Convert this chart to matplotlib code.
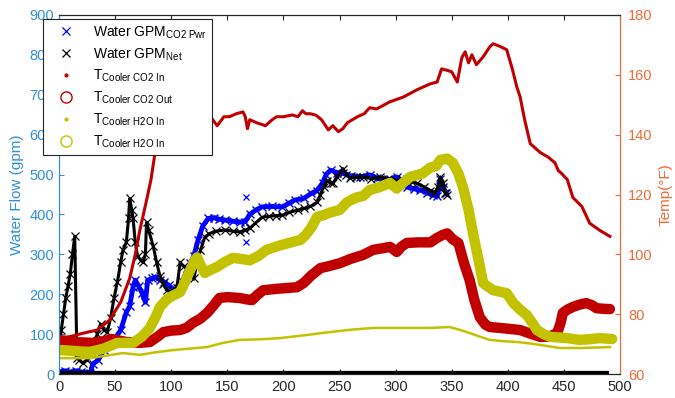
import matplotlib
matplotlib.use('Agg')
import matplotlib.pyplot as plt
from matplotlib.lines import Line2D

plt.rcParams['font.family'] = ['Liberation Sans', 'DejaVu Sans']
plt.rcParams['mathtext.fontset'] = 'custom'
plt.rcParams['mathtext.rm'] = 'Liberation Sans'
plt.rcParams['mathtext.it'] = 'Liberation Sans'

# Water GPM CO2 Pwr (left axis, blue x)
gpm_pwr_x = [0, 5, 10, 15, 20, 25, 28, 30, 35, 40, 45, 50, 55, 60, 63, 66, 68, 71, 74, 77,
             79, 83, 86, 90, 94, 98, 102, 106, 110, 114, 117, 120, 124, 128, 133, 138, 143,
             148, 155, 161, 166, 170, 176, 181, 190, 199, 205, 210, 218, 225, 230, 235, 238,
             242, 248, 253, 260, 268, 277, 283, 289, 295, 301, 306, 310, 316, 322, 328, 333,
             337, 340, 342, 345]
gpm_pwr_y = [5, 8, 5, 8, 5, 3, 3, 25, 35, 60, 75, 90, 110, 155, 170, 218, 235, 220, 203, 180,
             235, 240, 243, 236, 230, 222, 212, 215, 232, 260, 278, 295, 336, 370, 390, 392, 388,
             386, 383, 381, 382, 400, 412, 419, 420, 419, 428, 436, 440, 453, 460, 479, 500,
             511, 505, 503, 497, 494, 499, 492, 486, 488, 494, 482, 469, 465, 461, 455, 449,
             446, 490, 470, 454]
pwr_outlier_x = [167, 167]
pwr_outlier_y = [444, 331]

# Water GPM Net (left axis, black x)
gpm_net_x = [0, 2, 4, 6, 8, 10, 12, 14, 16, 18, 21, 25, 30, 34, 37, 40, 43, 46, 49, 52, 55,
             57, 60, 62, 63, 65, 66, 68, 70, 73, 75, 77, 78, 80, 84, 87, 90, 93, 96, 100, 105,
             108, 111, 114, 117, 120, 123, 126, 130, 134, 140, 148, 155, 161, 166, 170, 175,
             181, 187, 193, 199, 205, 213, 218, 224, 230, 233, 236, 239, 242, 244, 248, 253,
             256, 259, 265, 271, 278, 286, 293, 301, 306, 310, 315, 319, 325, 331, 335, 338,
             340, 342, 344, 346]
gpm_net_y = [60, 110, 150, 190, 220, 250, 300, 345, 40, 35, 28, 35, 50, 100, 125, 110, 105, 140,
             190, 230, 280, 310, 330, 390, 440, 410, 390, 330, 295, 285, 280, 300, 380, 360, 320,
             280, 245, 225, 210, 205, 215, 280, 270, 265, 245, 240, 275, 310, 343, 352, 358,
             361, 358, 356, 361, 365, 378, 393, 395, 397, 398, 405, 411, 415, 420, 430, 450,
             470, 485, 480, 478, 495, 515, 500, 492, 494, 494, 490, 494, 490, 485, 488, 490,
             482, 478, 470, 460, 455, 470, 494, 480, 455, 450]
net_zero_x = [0, 490]
net_zero_y = [0, 0]

# T Cooler CO2 In (right axis, thin red)
t_co2_in_x = [0, 10, 20, 34, 45, 55, 63, 68, 72, 78, 82, 86, 95, 105, 115, 122, 128, 135, 141,
              147, 152, 158, 164, 166, 168, 170, 176, 184, 190, 194, 200, 208, 213, 217, 220,
              224, 229, 234, 240, 244, 249, 253, 257, 266, 272, 277, 283, 290, 295, 307, 319,
              331, 337, 341, 346, 350, 355, 359, 362, 365, 368, 372, 378, 384, 387, 393, 399,
              404, 408, 411, 415, 420, 429, 436, 442, 445, 448, 453, 458, 466, 473, 482, 491]
t_co2_in_y = [72, 72.5, 73.5, 74.7, 78, 84, 92, 100, 108, 118, 125, 135, 150, 157, 158, 155,
              150.6, 146, 143, 146, 146, 147, 147.6, 146, 142, 145, 144, 143, 145, 146, 146,
              146.6, 146, 148, 147, 147, 146.5, 145, 141.6, 143, 141, 142, 144, 146, 147, 149,
              148.6, 150, 151, 152.6, 155, 157, 157.6, 162, 161.5, 161, 157.6, 165.7, 167.7,
              164, 166.7, 163.4, 166, 169.4, 170.4, 169.5, 168.4, 162, 156, 152.6, 145, 137,
              134, 132.5, 130.6, 128, 127, 125, 119, 116, 110.4, 108, 106]

# T Cooler CO2 Out (right axis, thick red)
t_co2_out_x = [0, 12, 30, 40, 47, 60, 72, 81, 88, 93, 100, 108, 114, 119, 126, 132, 138, 143,
               150, 161, 168, 172, 177, 182, 195, 212, 218, 225, 233, 240, 250, 260, 271, 280,
               288, 295, 301, 305, 310, 320, 331, 337, 342, 346, 351, 356, 361, 366, 370, 375,
               380, 384, 393, 411, 420, 429, 437, 444, 447, 449, 453, 458, 464, 470, 475, 479,
               485, 491]
t_co2_out_y = [71.4, 70.7, 70.4, 71, 71.7, 70.7, 70.4, 70.7, 72.5, 74, 74.5, 74.7, 75.5, 77,
               78.5, 80.4, 83, 85.4, 85.7, 85.4, 84.9, 84.7, 86.5, 88, 88.5, 89, 90.4, 93, 95.4,
               96, 97, 98.5, 99.8, 101.5, 102, 102.5, 100.8, 102.5, 103.8, 104, 104, 105.5,
               106.5, 107, 105, 103.8, 97, 91.4, 85, 79, 76.5, 75.7, 75.4, 74.7, 73.5, 72.4,
               72.5, 73.7, 77, 80.4, 81.5, 82.4, 83.2, 83.7, 83, 82, 81.8, 81.7]

# T Cooler H2O In (right axis, thin yellow)
t_h2o_thin_x = [0, 28, 45, 57, 72, 85, 102, 117, 132, 145, 161, 180, 197, 220, 241, 260, 280,
                307, 331, 348, 357, 366, 375, 384, 395, 408, 420, 429, 446, 467, 491]
t_h2o_thin_y = [65.3, 65.3, 66.3, 67, 66.4, 67.2, 68, 68.5, 69, 70.3, 71.4, 71.6, 72, 73, 74,
                74.8, 75.4, 75.4, 75.4, 75.7, 74.8, 73.7, 72.5, 71.4, 71, 70.7, 70.2, 69.7,
                68.7, 68.7, 69]

# T Cooler H2O In (right axis, thick yellow)
t_h2o_x = [0, 10, 20, 28, 40, 52, 66, 74, 81, 86, 90, 95, 99, 108, 112, 117, 121, 123, 126,
           130, 135, 141, 148, 155, 162, 170, 178, 185, 197, 207, 215, 220, 225, 230, 235, 242,
           250, 257, 265, 271, 277, 286, 295, 301, 307, 313, 319, 324, 331, 336, 340, 346, 351,
           356, 360, 365, 369, 374, 378, 383, 387, 393, 399, 405, 411, 417, 422, 426, 432, 438,
           446, 453, 464, 472, 482, 493]
t_h2o_y = [68, 67.8, 67.5, 67.4, 68.5, 70.4, 70.4, 72.5, 75.4, 79, 82.4, 84.5, 85.7, 87.4,
           90.5, 94.8, 98, 99, 96.5, 93.8, 94.8, 95.8, 97.5, 98.8, 98.5, 98, 99.5, 101.5, 103,
           104, 104.8, 106.5, 109, 112.5, 113, 114, 114.8, 117.5, 119, 119.5, 121.5, 122.5,
           123.9, 122, 124, 125.9, 126.5, 127, 129, 129.5, 131.6, 132, 130.6, 127, 122.5, 115,
           107, 98, 90.4, 89, 88, 87.5, 87, 83.7, 81.5, 79.7, 77, 74.7, 73.3, 72.4, 72.2, 72,
           71.4, 71.6, 72, 71.7]

left_color = '#2e8fd6'
right_color = '#ee6b36'
red = '#c00000'
yellow = '#c2c200'

fig = plt.figure(figsize=(6.75, 3.98), dpi=100)
ax1 = fig.add_axes([59 / 675, 24 / 398, 561 / 675, 359 / 398])
ax2 = ax1.twinx()

# left axis: water flow
ax1.plot(net_zero_x, net_zero_y, color='black', lw=4.5, solid_capstyle='butt', zorder=3)
ax1.plot(gpm_pwr_x, gpm_pwr_y, color='blue', lw=3.5, marker='x', ms=6, mew=1, zorder=2)
ax1.plot(pwr_outlier_x, pwr_outlier_y, ls='none', color='blue', marker='x', ms=5, mew=0.9)
ax1.plot(gpm_net_x, gpm_net_y, color='black', lw=2.2, marker='x', ms=6, mew=0.9, zorder=2)

# right axis: temperatures
ax2.plot(t_co2_in_x, t_co2_in_y, color=red, lw=2.2)
ax2.plot(t_co2_out_x, t_co2_out_y, color=red, lw=7.5, solid_capstyle='round',
         solid_joinstyle='round')
ax2.plot(t_h2o_thin_x, t_h2o_thin_y, color=yellow, lw=1.8)
ax2.plot(t_h2o_x, t_h2o_y, color=yellow, lw=7.5, solid_capstyle='round',
         solid_joinstyle='round')

ax1.set_xlim(0, 500)
ax1.set_ylim(0, 900)
ax2.set_ylim(60, 180)
ax1.set_xticks(range(0, 501, 50))
ax1.set_yticks(range(0, 901, 100))
ax2.set_yticks(range(60, 181, 20))

ax1.tick_params(axis='x', direction='in', top=True, length=3.5, colors='#262626',
                labelsize=10.5, pad=4)
ax1.tick_params(axis='y', direction='in', length=3.5, colors=left_color, labelsize=10.5)
ax2.tick_params(axis='y', direction='in', length=3.5, colors=right_color, labelsize=10.5,
                pad=6)
for ax in (ax1, ax2):
    ax.spines['left'].set_color(left_color)
    ax.spines['right'].set_color(right_color)
    ax.spines['top'].set_color('#262626')
    ax.spines['bottom'].set_color('#262626')
    for s in ax.spines.values():
        s.set_linewidth(0.8)

ax1.set_ylabel('Water Flow (gpm)', color=left_color, fontsize=11, labelpad=4)
ax2.set_ylabel('Temp(°F)', color=right_color, fontsize=11, labelpad=4)

handles = [
    Line2D([], [], ls='none', marker='x', color='blue', ms=6, mew=0.9),
    Line2D([], [], ls='none', marker='x', color='black', ms=6, mew=0.9),
    Line2D([], [], ls='none', marker='.', color=red, ms=4),
    Line2D([], [], ls='none', marker='o', color=red, mfc='none', ms=8, mew=1),
    Line2D([], [], ls='none', marker='.', color=yellow, ms=4),
    Line2D([], [], ls='none', marker='o', color=yellow, mfc='none', ms=8, mew=1),
]
labels = [
    r'Water GPM$_{\mathrm{CO2\ Pwr}}$',
    r'Water GPM$_{\mathrm{Net}}$',
    r'T$_{\mathrm{Cooler\ CO2\ In}}$',
    r'T$_{\mathrm{Cooler\ CO2\ Out}}$',
    r'T$_{\mathrm{Cooler\ H2O\ In}}$',
    r'T$_{\mathrm{Cooler\ H2O\ In}}$',
]
leg = ax2.legend(handles, labels, loc='upper left', bbox_to_anchor=(-0.029, 0.988),
                 borderaxespad=0, fontsize=10, frameon=True, fancybox=False,
                 edgecolor='#262626', framealpha=1, labelspacing=0.4, handlelength=2.6,
                 handletextpad=0.7, borderpad=0.35)
leg.get_frame().set_linewidth(0.8)

fig.savefig('out.png', dpi=100)
